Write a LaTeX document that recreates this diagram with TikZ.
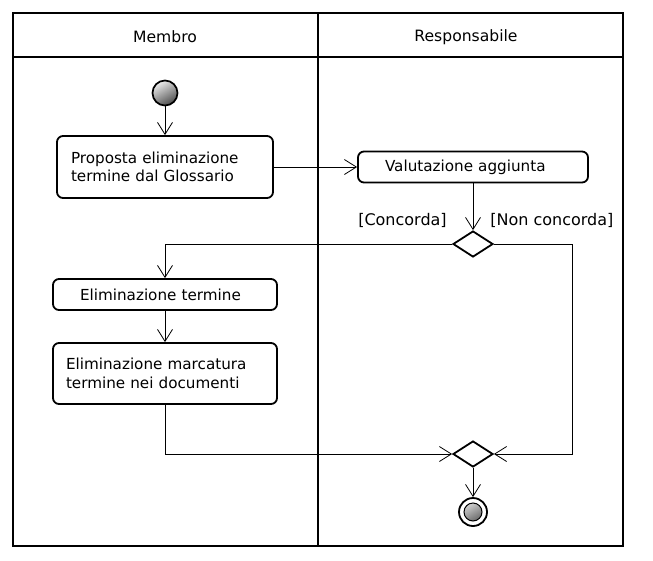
\documentclass[tikz,border=0pt]{standalone}
\usepackage{fontspec}
\setmainfont{DejaVu Sans}
\usetikzlibrary{shapes.geometric, arrows.meta, positioning}
\tikzstyle{lane} = [font=\fontsize{15.6}{18}\selectfont]
\tikzstyle{activity} = [rectangle, rounded corners=6pt, draw=black, line width=1.8pt, fill=white, align=left, inner ysep=0pt, font=\fontsize{15.2}{18.5}\selectfont]
\tikzstyle{decision} = [diamond, draw=black, line width=1.8pt, fill=white, minimum width=40pt, minimum height=26pt, inner sep=0pt]
\tikzstyle{initial} = [circle, draw=black, line width=1.7pt, minimum size=25pt, inner sep=0pt, shading=axis, top color=gray!15, bottom color=black!70, shading angle=30]
\tikzstyle{final} = [circle, draw=black, line width=1.8pt, minimum size=28pt, inner sep=0pt, fill=white, path picture={\shade[top color=gray!15, bottom color=black!70, shading angle=30, draw=black, line width=1pt] (path picture bounding box.center) circle (9pt);}]
\tikzstyle{guard} = [font=\fontsize{16}{18}\selectfont, inner sep=0pt]
\tikzstyle{arrow} = [line width=0.8pt, -{Straight Barb[length=12pt, width=15pt, line width=0.8pt]}]

\begin{document}
\begin{tikzpicture}[x=1pt, y=-1pt, node distance=76pt]
\useasboundingbox (0,0) rectangle (653,560);

% swimlanes
\draw [line width=1.8pt] (13,13) rectangle (623,546);
\draw [line width=1.8pt] (13,57) -- (623,57);
\draw [line width=1.8pt] (318,13) -- (318,546);
\node (membro) [lane] at (165,37) {Membro};
\node (resp) [lane] at (466,37) {Responsabile};

\node (start) [initial] at (165,93) {};
\node (propose) [activity, below of=start, yshift=2pt, text width=188pt, inner xsep=14pt, minimum height=62pt] {Proposta eliminazione\\termine dal Glossario};
\node (valuta) [activity, right of=propose, xshift=232pt, text width=176pt, inner xsep=27pt, minimum height=31pt] {Valutazione aggiunta};
\node (decide) [decision, below of=valuta, yshift=-1pt] {};
\node (elim) [activity, below of=propose, yshift=-51.5pt, text width=170pt, inner xsep=27pt, minimum height=31pt] {Eliminazione termine};
\node (marc) [activity, below of=elim, yshift=-3pt, text width=198pt, inner xsep=13pt, minimum height=61pt] {Eliminazione marcatura\\termine nei documenti};
\node (merge) [decision, below of=decide, yshift=-134pt] {};
\node (stop) [final, below of=merge, yshift=18pt] {};

\draw [arrow] (start) -- (propose);
\draw [arrow] (propose) -- (valuta);
\draw [arrow] (valuta) -- (decide);
\draw [arrow] (decide.west) -| node[pos=0, guard, anchor=south east, xshift=-5pt, yshift=16pt]{[Concorda]} (elim.north);
\draw [arrow] (elim) -- (marc);
\draw [arrow] (marc.south) |- (merge.west);
\draw [arrow] (decide.east) -- ++(78,0) node[pos=0, guard, anchor=south west, xshift=-4pt, yshift=16pt]{[Non concorda]} |- (merge.east);
\draw [arrow] (merge) -- (stop);
\end{tikzpicture}
\end{document}
